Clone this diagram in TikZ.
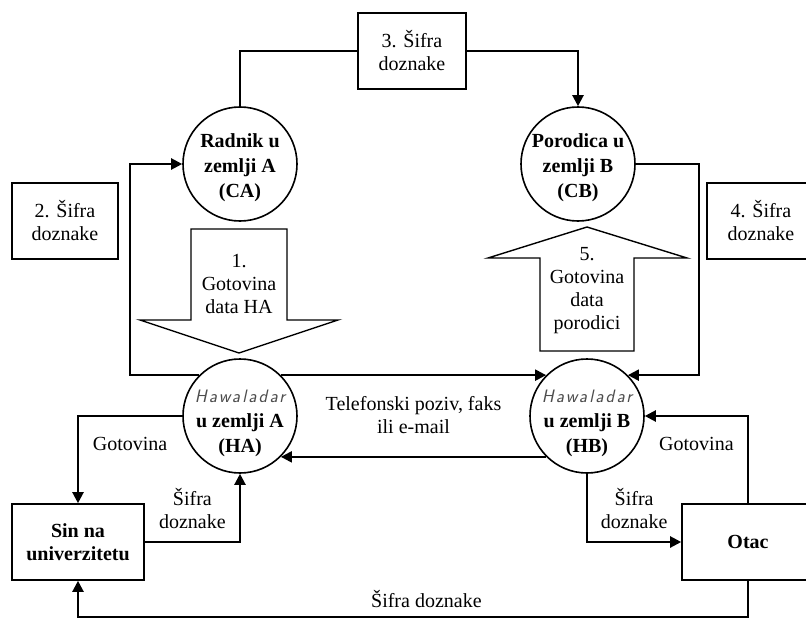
\documentclass[tikz,border=0pt]{standalone}
\usepackage{fontspec}
\setmainfont{Liberation Serif}
\newfontfamily\hawfont[LetterSpace=12]{Latin Modern Sans}
\usetikzlibrary{arrows, arrows.meta, positioning}
\tikzset{
  conn/.style={line width=2.2pt, -{Triangle[length=11pt,width=11pt]}}, % directed connectors
  plain/.style={line width=2.2pt}, % connector without a tip
  party/.style={draw, circle, line width=1.6pt, fill=white, minimum size=114pt,
    inner sep=0pt}, % people
  ptext/.style={align=center, inner sep=0pt, font=\fontsize{20}{25}\selectfont\bfseries}, % text in the circles
  codebox/.style={draw, rectangle, line width=1.6pt, minimum height=76pt,
    inner sep=0pt, align=center, font=\fontsize{20}{23}\selectfont}, % boxes
  fat/.style={draw, line width=1.4pt, fill=white}, % big hollow arrows
  lbl/.style={align=center, inner sep=3.3pt, font=\fontsize{20}{23}\selectfont}, % labels
}
\newcommand{\hawala}{{\hawfont\itshape\mdseries\fontsize{18}{20}\selectfont\color{black!70}Hawaladar}}

\begin{document}
\begin{tikzpicture}[x=1pt, y=-1pt]
    \useasboundingbox (0,0) rectangle (806,618);

    \node[party, label={[ptext, yshift=-4pt]center:{Radnik u\\zemlji A\\(CA)}}] (CA) at (240,164) {};
    \node[party, label={[ptext, yshift=-4pt]center:{Porodica u\\zemlji B\\(CB)}}] (CB) at (578,164) {};
    \node[party, label={[ptext, yshift=-7pt]center:{\hawala\\u zemlji A\\(HA)}}] (HA) at (240,416) {};
    \node[party, label={[ptext, yshift=-7pt]center:{\hawala\\u zemlji B\\(HB)}}] (HB) at (587,416) {};
    \node[codebox, minimum width=108pt] (code3) at (412,51) {3. Šifra\\doznake};
    \node[codebox, minimum width=106pt] (code2) at (65,221) {2. Šifra\\doznake};
    \node[codebox, minimum width=108pt] (code4) at (761,221) {4. Šifra\\doznake};
    \node[codebox, minimum width=132pt, font=\fontsize{20}{23}\selectfont\bfseries] (son) at (78,542) {Sin na\\univerzitetu};
    \node[codebox, minimum width=132pt, font=\fontsize{20}{23}\selectfont\bfseries] (father) at (748,542) {Otac};

    % big arrows for the cash
    \draw[fat] (191,229) -- (287,229) -- (287,320) -- (338,320) -- (239,353) -- (140,320) -- (191,320) -- cycle;
    \node[lbl] (cash1) at (239,284) {1.\\Gotovina\\data HA};
    \draw[fat] (587,227) -- (687,258) -- (634,258) -- (634,351) -- (540,351) -- (540,258) -- (488,258) -- cycle;
    \node[lbl] (cash5) at (587,291) {5.\\Gotovina\\data\\porodici};

    \draw[plain] (code3.west) -| (CA.north);
    \draw[conn] (code3.east) -| (CB.north);
    \draw[conn] (HA.135) -- ++(-69,0) |- (CA.west);
    \draw[conn] (HA.45) -- (HB.135);
    \draw[conn] (CB.east) -- ++(63,0) |- (HB.45);
    \draw[conn] (HB.225) -- node[lbl, above=19pt] (call) {Telefonski poziv, faks\\ili e-mail} (HA.-45);
    \draw[conn] (HA.west) -| node[lbl, pos=0.25, below=17pt] (cashS) {Gotovina} (son.north);
    \draw[conn] (son.east) -| node[lbl, pos=0.25, above=9pt] (codeS) {Šifra\\doznake} (HA.south);
    \draw[conn] (father.north) |- node[lbl, pos=0.75, below=17pt] (cashF) {Gotovina} (HB.east);
    \draw[conn] (HB.south) |- node[lbl, pos=0.75, above=9pt] (codeF) {Šifra\\doznake} (father.west);
    \draw[conn] (father.south) -- ++(0,36) -| node[lbl, pos=0.24, above=5pt] (codeB) {Šifra doznake} (son.south);

  \end{tikzpicture}
\end{document}
